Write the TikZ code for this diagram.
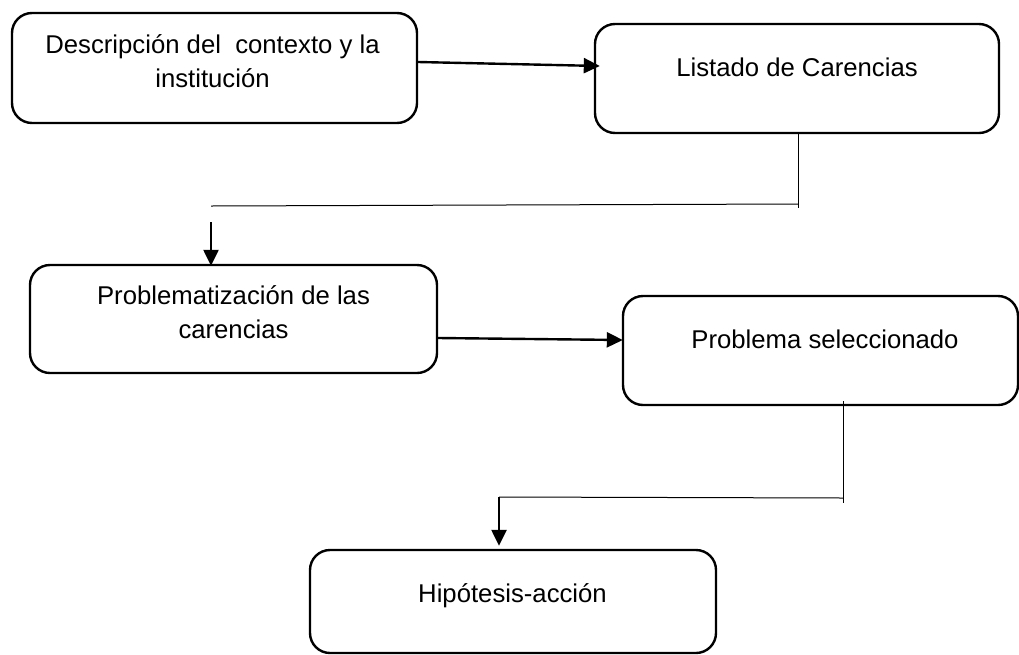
\documentclass[tikz,border=0pt]{standalone}
\usepackage{fontspec}
\setmainfont{Liberation Sans}
\usetikzlibrary{positioning,calc,arrows.meta}
\tikzset{
  box/.style={draw, line width=2.4pt, rounded corners=20pt, inner sep=0pt},
  boxtext/.style={anchor=base, align=center, font=\fontsize{25.7}{34}\selectfont},
  arrowline/.style={line width=2.4pt, -{Triangle[length=16pt,width=15pt]}},
  thinline/.style={line width=1pt},
}

\begin{document}
\begin{tikzpicture}[x=1pt,y=-1pt]
    \useasboundingbox (0,0) rectangle (1019,654);

    % boxes
    \node [box, minimum width=405pt, minimum height=110pt] (desc) at (214.5,68) {};
    \node [box, minimum width=404pt, minimum height=109pt] (listado) at (797,78.5) {};
    \node [box, minimum width=407pt, minimum height=108pt] (problem) at (233.5,319) {};
    \node [box, minimum width=395pt, minimum height=109pt] (selec) at (820.5,350.5) {};
    \node [box, minimum width=406pt, minimum height=103pt] (hipo) at (513,601.5) {};

    % texts (base = last line)
    \node [boxtext] (descText) at (212.5,87) {Descripción del \ contexto y la\\institución};
    \node [boxtext] (listadoText) at (797,76) {Listado de Carencias};
    \node [boxtext] (problemText) at (233.5,338) {Problematización de las\\carencias};
    \node [boxtext] (selecText) at (825,348) {Problema seleccionado};
    \node [boxtext] (hipoText) at (512.5,602) {Hipótesis-acción};

    % elbow points
    \coordinate (elbowA) at (798,204);
    \coordinate (dropA) at (211,206);
    \coordinate (elbowB) at (843,498);
    \coordinate (dropB) at (499,497);

    % connectors
    \draw [arrowline] ($(desc.east)+(0,-6)$) -- ($(listado.west)+(6,-12.5)$);
    \draw [thinline] (listado.south -| elbowA) -- ($(elbowA)+(0,4)$);
    \draw [thinline] (elbowA) -- (dropA);
    \draw [arrowline] ($(dropA)+(0,16)$) -- ($(problem.north -| dropA)+(0,2)$);

    \draw [arrowline] ($(problem.east)+(0,19)$) -- ($(selec.west)+(1,-10.5)$);
    \draw [thinline] ($(selec.south -| elbowB)+(0,-5)$) -- ($(elbowB)+(0,5)$);
    \draw [thinline] (elbowB) -- (dropB);
    \draw [arrowline] (dropB) -- ($(hipo.north -| dropB)+(0,-3)$);
\end{tikzpicture}
\end{document}
